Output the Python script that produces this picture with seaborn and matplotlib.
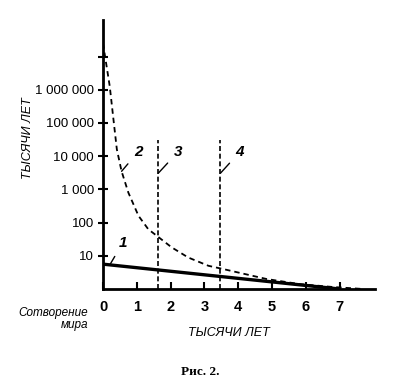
import numpy as np
import pandas as pd
import seaborn as sns
import matplotlib
matplotlib.use("Agg")
import matplotlib.pyplot as plt

# кривая 1: прямая в логарифмическом масштабе
x1 = [0.0, 7.0]
y1 = [5.6, 1.0]

# кривая 2: пунктир, быстро спадающий
x2 = [0.0, 0.2, 0.31, 0.41, 0.55, 0.75, 1.05, 1.34, 1.62, 2.03, 2.52,
      3.12, 3.55, 4.84, 5.83, 6.8, 7.7]
y2 = [2.5e7, 1.26e6, 1.26e5, 1.6e4, 3500, 800, 160, 63, 38, 18, 8.9,
      5.0, 4.0, 2.0, 1.4, 1.15, 1.0]

# вертикальные линии 3 и 4
vlines_x = [1.64, 3.46]
vline_top = 3e4

yticks = [10, 100, 1000, 10000, 100000, 1000000, 10000000]
yticklabels = ["10", "100", "1 000", "10 000", "100 000", "1 000 000", ""]
xticks = [0, 1, 2, 3, 4, 5, 6, 7]

sns.set_style("ticks")
plt.rcParams["font.family"] = ["Liberation Sans", "DejaVu Sans"]
plt.rcParams["text.color"] = "black"
plt.rcParams["xtick.color"] = "black"
plt.rcParams["ytick.color"] = "black"
plt.rcParams["axes.edgecolor"] = "black"

fig = plt.figure(figsize=(4.0, 3.87), dpi=100)
ax = fig.add_axes([0.2575, 1 - 289 / 387, 0.68, (289 - 20) / 387])

df1 = pd.DataFrame({"x": x1, "y": y1})
df2 = pd.DataFrame({"x": x2, "y": y2})
sns.lineplot(data=df1, x="x", y="y", ax=ax, color="black", lw=2.4)
sns.lineplot(data=df2, x="x", y="y", ax=ax, color="black", lw=1.3,
             linestyle=(0, (3, 2.2)))
for vx in vlines_x:
    ax.plot([vx, vx], [1, vline_top], color="black", lw=1.2,
            linestyle=(0, (3, 1.6)))

ax.set_yscale("log")
ax.set_ylim(1, 10 ** 8.1)
ax.set_xlim(0, 8.05)
ax.set_yticks(yticks)
ax.set_yticklabels(yticklabels)
ax.minorticks_off()
ax.set_xticks(xticks)
ax.set_xlabel("")
ax.set_ylabel("")

for s in ["top", "right"]:
    ax.spines[s].set_visible(False)
for s in ["left", "bottom"]:
    ax.spines[s].set_linewidth(2.0)
ax.tick_params(axis="y", direction="inout", length=7, width=1.5,
               labelsize=9.5, pad=3)
ax.tick_params(axis="x", direction="in", length=5, width=1.5,
               labelsize=10.5, pad=8)
for t in ax.get_xticklabels():
    t.set_fontweight("bold")

arrow = dict(arrowstyle="-", color="black", lw=1.0, shrinkA=3, shrinkB=0)
lab = dict(fontsize=11, fontstyle="italic", fontweight="bold",
           ha="center", va="center")
ax.annotate("1", xy=(0.2, 5.3), xytext=(0.59, 25), arrowprops=arrow, **lab)
ax.annotate("2", xy=(0.55, 3500), xytext=(1.04, 1.35e4), arrowprops=arrow, **lab)
ax.annotate("3", xy=(1.64, 3100), xytext=(2.22, 1.35e4), arrowprops=arrow, **lab)
ax.annotate("4", xy=(3.48, 3100), xytext=(4.05, 1.35e4), arrowprops=arrow, **lab)

fig.text(28 / 400, 1 - 138 / 387, "ТЫСЯЧИ ЛЕТ", rotation=90, fontsize=9,
         fontstyle="italic", ha="center", va="center")
fig.text(229 / 400, 1 - 333 / 387, "ТЫСЯЧИ ЛЕТ", fontsize=9,
         fontstyle="italic", ha="center", va="center")
fig.text(88 / 400, 1 - 319 / 387, "Сотворение\nмира", fontsize=8.5,
         fontstyle="italic", ha="right", va="center", linespacing=0.95,
         multialignment="right")
fig.text(200 / 400, 1 - 372 / 387, "Рис. 2.", fontsize=9.5, fontweight="bold",
         family=["Liberation Serif", "DejaVu Serif"], ha="center", va="center")

fig.savefig("out.png", dpi=100)
